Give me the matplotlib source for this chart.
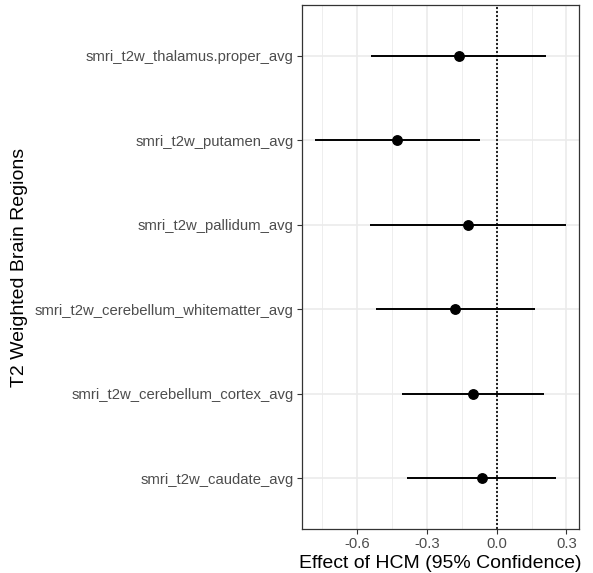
import matplotlib
matplotlib.use("Agg")
import matplotlib.pyplot as plt

regions = [
    "smri_t2w_caudate_avg",
    "smri_t2w_cerebellum_cortex_avg",
    "smri_t2w_cerebellum_whitematter_avg",
    "smri_t2w_pallidum_avg",
    "smri_t2w_putamen_avg",
    "smri_t2w_thalamus.proper_avg",
]
estimate = [-0.063, -0.102, -0.180, -0.123, -0.426, -0.162]
lower = [-0.386, -0.406, -0.520, -0.546, -0.782, -0.539]
upper = [0.257, 0.203, 0.163, 0.300, -0.073, 0.213]
x_ticks = [-0.6, -0.3, 0.0, 0.3]
x_tick_labels = ["-0.6", "-0.3", "0.0", "0.3"]

plt.rcParams['font.family'] = ['Liberation Sans', 'DejaVu Sans']

fig = plt.figure(figsize=(5.93, 5.73), dpi=100)
ax = fig.add_axes([302/593, 1-529/573, (579-302)/593, (529-5)/573])

ypos = list(range(1, len(regions)+1))

# grid
for v in [-0.75, -0.45, -0.15, 0.15]:
    ax.axvline(v, color="#EBEBEB", lw=0.6, zorder=0)
for v in x_ticks:
    ax.axvline(v, color="#EBEBEB", lw=1.2, zorder=0)
for y in ypos:
    ax.axhline(y, color="#EBEBEB", lw=1.2, zorder=0)

ax.axvline(0, color="black", lw=1.2, linestyle=(0, (1.2, 1.2)), zorder=1)

ax.hlines(ypos, lower, upper, color="black", lw=1.4, zorder=2)
ax.plot(estimate, ypos, "o", color="black", markersize=6.8, zorder=3)

ax.set_xlim(-0.836, 0.354)
ax.set_ylim(0.4, 6.6)
ax.set_xticks(x_ticks)
ax.set_xticklabels(x_tick_labels)
ax.set_yticks(ypos)
ax.set_yticklabels(regions)

ax.tick_params(axis="both", colors="#333333", length=3.5, width=0.8, labelsize=10.75, labelcolor="#4D4D4D", pad=2.5)
for s in ax.spines.values():
    s.set_color("#333333")
    s.set_linewidth(0.9)

ax.set_xlabel("Effect of HCM (95% Confidence)", fontsize=14, color="black", va="center")
ax.xaxis.set_label_coords(0.5, (529-563)/524)
ax.set_ylabel("T2 Weighted Brain Regions", fontsize=14, color="black", va="center")
ax.yaxis.set_label_coords((20-302)/277, 0.5)

fig.savefig("out.png", dpi=100)
